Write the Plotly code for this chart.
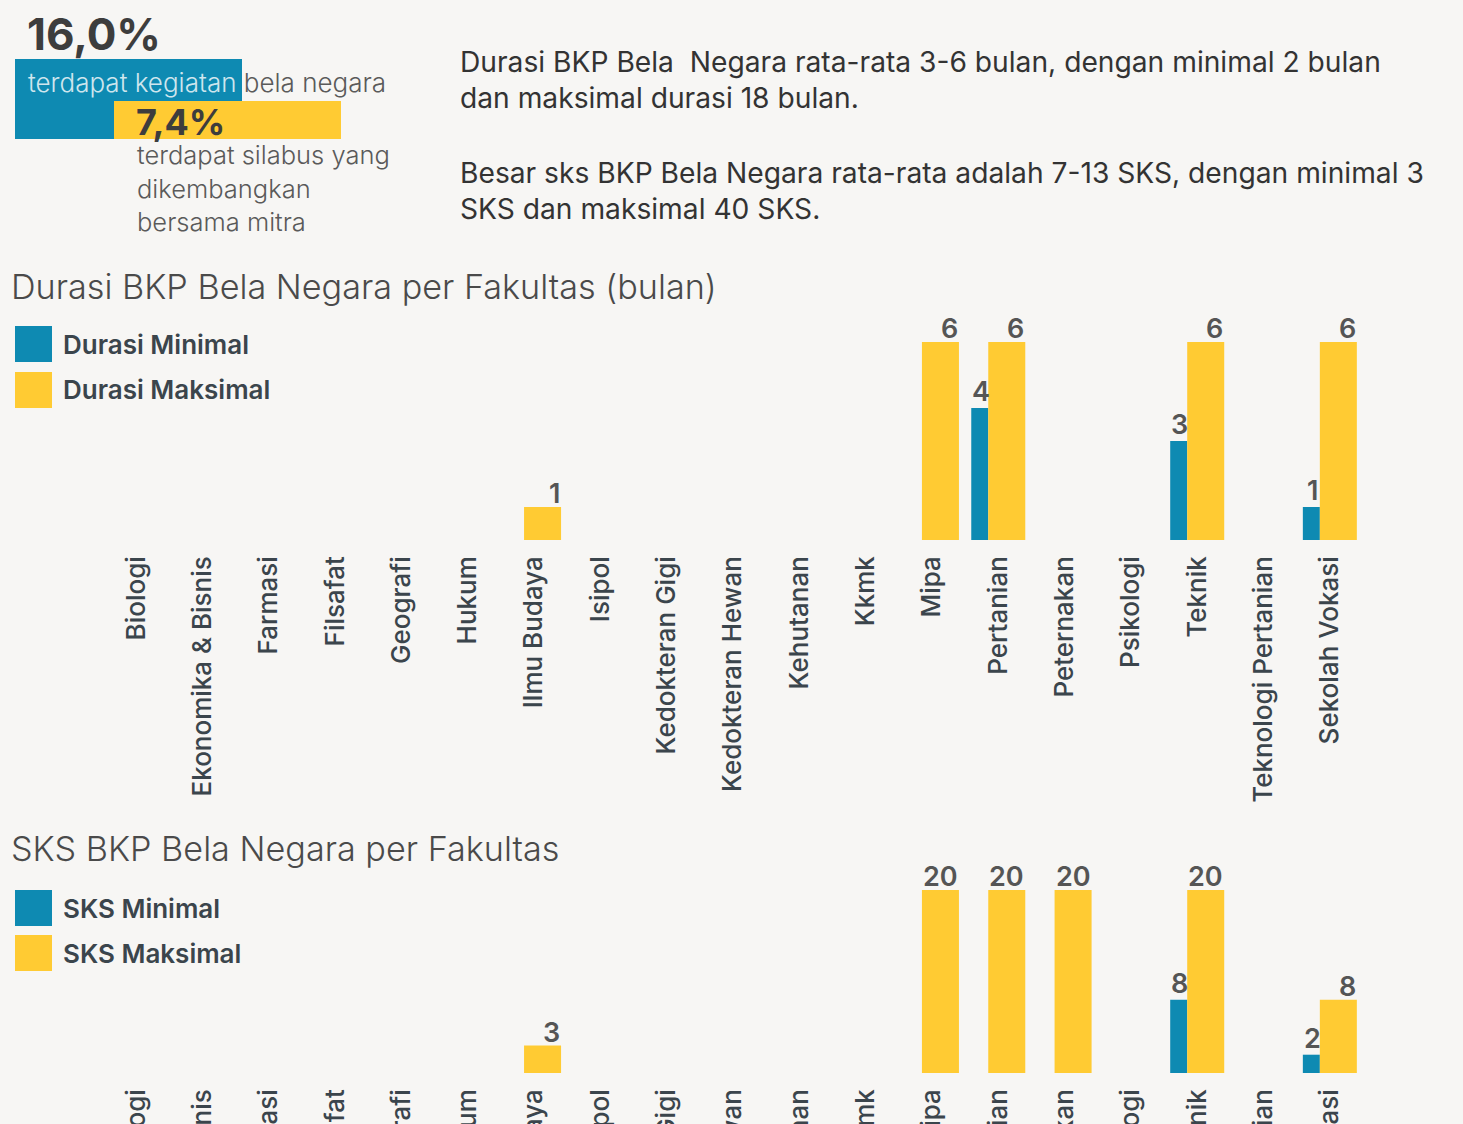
import plotly.graph_objects as go

W, H = 1463, 1124

categories = ["Biologi", "Ekonomika & Bisnis", "Farmasi", "Filsafat", "Geografi", "Hukum",
              "Ilmu Budaya", "Isipol", "Kedokteran Gigi", "Kedokteran Hewan", "Kehutanan",
              "Kkmk", "Mipa", "Pertanian", "Peternakan", "Psikologi", "Teknik",
              "Teknologi Pertanian", "Sekolah Vokasi"]

durasi_min = [None, None, None, None, None, None, None, None, None, None, None, None,
              None, 4, None, None, 3, None, 1]
durasi_max = [None, None, None, None, None, None, 1, None, None, None, None, None,
              6, 6, None, None, 6, None, 6]
sks_min = [None, None, None, None, None, None, None, None, None, None, None, None,
           None, None, None, None, 8, None, 2]
sks_max = [None, None, None, None, None, None, 3, None, None, None, None, None,
           20, 20, 20, None, 20, None, 8]

BLUE = "#0e8ab2"
YELLOW = "#ffcb33"
BG = "#f7f6f4"
FONT = "Inter"

def px(x):
    return x / W

def py(y):
    return 1 - y / H

step = 66.3
b_off, b_w = -27 / step, 17 / step
y_off, y_w = -10 / step, 37 / step
xs = list(range(len(categories)))

fig = go.Figure()
for vals, color, off, wd, xa, ya, name in [
    (durasi_min, BLUE, b_off, b_w, "x", "y", "Durasi Minimal"),
    (durasi_max, YELLOW, y_off, y_w, "x", "y", "Durasi Maksimal"),
    (sks_min, BLUE, b_off, b_w, "x2", "y2", "SKS Minimal"),
    (sks_max, YELLOW, y_off, y_w, "x2", "y2", "SKS Maksimal"),
]:
    fig.add_trace(go.Bar(x=xs, y=vals, marker=dict(color=color, line=dict(width=0)),
                         offset=off, width=wd, xaxis=xa, yaxis=ya, name=name,
                         showlegend=False))

annotations = []
# value labels
for vals, xr, yr, kind in [(durasi_min, "x", "y", "min"), (durasi_max, "x", "y", "max"),
                           (sks_min, "x2", "y2", "min"), (sks_max, "x2", "y2", "max")]:
    for i, v in enumerate(vals):
        if v is None:
            continue
        if kind == "min":
            ax, anchor, ysh = i + b_off + b_w / 2, "center", -2
        else:
            ax, anchor, ysh = i + y_off + y_w, "right", -5
        annotations.append(dict(x=ax, y=v, xref=xr, yref=yr, text=str(v), showarrow=False,
                                xanchor=anchor, yanchor="bottom", yshift=ysh, xshift=1,
                                font=dict(family=FONT, size=27, color="#555555", weight=600)))

def txt(x, y, text, size, color, weight=400, xanchor="left"):
    annotations.append(dict(x=px(x), y=py(y), xref="paper", yref="paper", text=text,
                            showarrow=False, xanchor=xanchor, yanchor="middle",
                            font=dict(family=FONT, size=size, color=color, weight=weight)))

# top-left block
txt(25, 34, "16,0%", 44, "#3d3d3d", 700)
txt(26, 82, "<span style='color:#cfe6ee'>terdapat kegiatan</span> bela negara", 26, "#5a5a5a", 300)
txt(134, 122, "7,4%", 36, "#3d3d3d", 700)
txt(135, 155, "terdapat silabus yang", 25.5, "#5a5a5a", 300)
txt(135, 188, "dikembangkan", 25.5, "#5a5a5a", 300)
txt(135, 221, "bersama mitra", 25.5, "#5a5a5a", 300)

# paragraph text
txt(458, 62, "Durasi BKP Bela  Negara rata-rata 3-6 bulan, dengan minimal 2 bulan", 28.2, "#333333", 400)
txt(458, 98, "dan maksimal durasi 18 bulan.", 28.2, "#333333", 400)
txt(458, 173, "Besar sks BKP Bela Negara rata-rata adalah 7-13 SKS, dengan minimal 3", 28.2, "#333333", 400)
txt(458, 209, "SKS dan maksimal 40 SKS.", 28.2, "#333333", 400)

# titles
txt(9, 287, "Durasi BKP Bela Negara per Fakultas (bulan)", 34.2, "#4a4a4a", 300)
txt(9, 848, "SKS BKP Bela Negara per Fakultas", 34.2, "#4a4a4a", 300)

# legends
legend_items = [(344, BLUE, "Durasi Minimal"), (390, YELLOW, "Durasi Maksimal"),
                (908, BLUE, "SKS Minimal"), (953, YELLOW, "SKS Maksimal")]
shapes = [
    dict(type="rect", xref="paper", yref="paper", x0=px(15), x1=px(242), y0=py(139), y1=py(59),
         fillcolor=BLUE, line=dict(width=0), layer="below"),
    dict(type="rect", xref="paper", yref="paper", x0=px(114), x1=px(341), y0=py(139), y1=py(101),
         fillcolor=YELLOW, line=dict(width=0), layer="below"),
]
for yc, col, label in legend_items:
    shapes.append(dict(type="rect", xref="paper", yref="paper", x0=px(15), x1=px(52),
                       y0=py(yc + 18), y1=py(yc - 18), fillcolor=col, line=dict(width=0)))
    txt(61, yc, label, 26, "#3b454c", 600)

axis_common = dict(range=[-0.5, len(categories) - 0.5], tickmode="array", tickvals=xs,
                   ticktext=categories, tickangle=-90, showgrid=False, zeroline=False,
                   showline=False, ticks="", ticklabelstandoff=10, automargin=False,
                   tickfont=dict(family=FONT, size=26, color="#3b454c", weight=500),
                   domain=[px(103), px(1363)], fixedrange=True)

fig.update_layout(
    width=W, height=H, margin=dict(l=0, r=0, t=0, b=0),
    paper_bgcolor=BG, plot_bgcolor=BG, barmode="overlay", showlegend=False,
    xaxis=dict(anchor="y", **axis_common),
    xaxis2=dict(anchor="y2", **axis_common),
    yaxis=dict(range=[0, 6], domain=[py(540), py(342)], visible=False, automargin=False,
               fixedrange=True),
    yaxis2=dict(range=[0, 20], domain=[py(1073), py(890)], visible=False, automargin=False,
                fixedrange=True),
    annotations=annotations, shapes=shapes,
    font=dict(family=FONT),
)

fig.write_html("out.html", config={"displayModeBar": False},
               post_script="document.body.style.margin='0px';document.body.style.overflow='hidden';document.body.style.background='" + BG + "';")
